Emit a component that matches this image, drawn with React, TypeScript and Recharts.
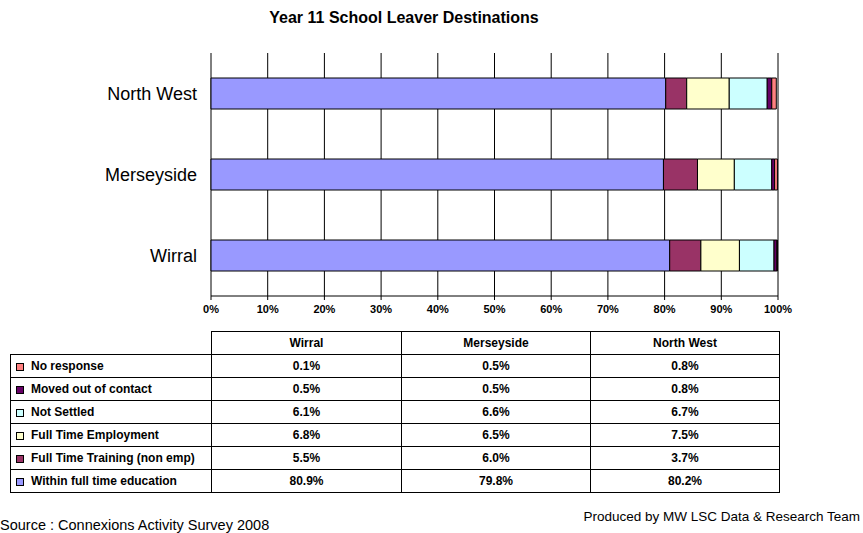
import React from "react";
import {
  Bar,
  BarChart,
  CartesianGrid,
  ReferenceLine,
  XAxis,
  YAxis,
} from "recharts";

// table order (left to right)
const CATEGORIES = ["Wirral", "Merseyside", "North West"];

// stacked from the left
const SERIES_NAMES = [
  "Within full time education",
  "Full Time Training (non emp)",
  "Full Time Employment",
  "Not Settled",
  "Moved out of contact",
  "No response",
];

const EDUCATION = [80.9, 79.8, 80.2];
const TRAINING = [5.5, 6.0, 3.7];
const EMPLOYMENT = [6.8, 6.5, 7.5];
const NOT_SETTLED = [6.1, 6.6, 6.7];
const MOVED_OUT = [0.5, 0.5, 0.8];
const NO_RESPONSE = [0.1, 0.5, 0.8];

const X_TICKS = [0, 10, 20, 30, 40, 50, 60, 70, 80, 90, 100];

const SERIES_VALUES = [EDUCATION, TRAINING, EMPLOYMENT, NOT_SETTLED, MOVED_OUT, NO_RESPONSE];
const COLORS = ["#9999FF", "#993366", "#FFFFCC", "#CCFFFF", "#660066", "#FF8080"];
const KEYS = ["edu", "train", "emp", "notSettled", "moved", "noResp"];

const FONT = "'Liberation Sans', Arial, sans-serif";

// chart runs top to bottom: North West, Merseyside, Wirral
const chartData = CATEGORIES.map((name, i) => {
  const row: Record<string, string | number> = { name };
  KEYS.forEach((k, s) => (row[k] = SERIES_VALUES[s][i]));
  return row;
}).reverse();

const cell: React.CSSProperties = {
  border: "1px solid #000",
  padding: 0,
  height: 22,
  textAlign: "center",
  fontWeight: "bold",
  fontSize: 12,
  lineHeight: "14px",
};

function DataTable() {
  const rows = SERIES_NAMES.map((name, s) => ({ name, s })).reverse();
  return (
    <table
      style={{
        position: "absolute",
        left: 10,
        top: 331,
        borderCollapse: "collapse",
        fontFamily: FONT,
        tableLayout: "fixed",
        width: 769,
      }}
    >
      <colgroup>
        <col style={{ width: 201 }} />
        <col style={{ width: 190 }} />
        <col style={{ width: 189 }} />
        <col style={{ width: 189 }} />
      </colgroup>
      <tbody>
        <tr>
          <td style={{ ...cell, border: "none", borderRight: "1px solid #000" }} />
          {CATEGORIES.map((c) => (
            <td key={c} style={cell}>
              {c}
            </td>
          ))}
        </tr>
        {rows.map(({ name, s }) => (
          <tr key={name}>
            <td style={{ ...cell, textAlign: "left", paddingLeft: 5, whiteSpace: "nowrap" }}>
              <span
                style={{
                  display: "inline-block",
                  width: 6,
                  height: 6,
                  background: COLORS[s],
                  border: "1px solid #000",
                  marginRight: 7,
                  verticalAlign: "-1px",
                }}
              />
              {name}
            </td>
            {CATEGORIES.map((c, i) => (
              <td key={c} style={cell}>
                {SERIES_VALUES[s][i].toFixed(1)}%
              </td>
            ))}
          </tr>
        ))}
      </tbody>
    </table>
  );
}

export default function App() {
  return (
    <div
      style={{
        position: "absolute",
        left: 0,
        top: 0,
        width: 863,
        height: 533,
        background: "#fff",
        fontFamily: FONT,
        overflow: "hidden",
      }}
    >
      <div
        style={{
          position: "absolute",
          top: 9,
          left: 254,
          width: 300,
          textAlign: "center",
          fontSize: 16,
          fontWeight: "bold",
          whiteSpace: "nowrap",
        }}
      >
        Year 11 School Leaver Destinations
      </div>
      <BarChart
        width={863}
        height={330}
        data={chartData}
        layout="vertical"
        barSize={31}
        margin={{ top: 53, right: 85, bottom: 14, left: 0 }}
      >
        <CartesianGrid
          yAxisId="cat"
          horizontal={false}
          stroke="#000"
          strokeWidth={1}
        />
        <XAxis
          type="number"
          domain={[0, 100]}
          ticks={X_TICKS}
          interval={0}
          height={20}
          tickFormatter={(v) => `${v}%`}
          tick={{ fill: "#000", fontSize: 11, fontWeight: "bold" }}
          tickSize={4}
          tickMargin={5}
          stroke="#000"
        />
        <YAxis
          yAxisId="grid"
          type="number"
          domain={[0, 3]}
          ticks={[0, 1, 2, 3]}
          width={0}
          tickSize={4}
          tickFormatter={() => ""}
          stroke="#000"
        />
        <YAxis
          yAxisId="cat"
          type="category"
          dataKey="name"
          width={211}
          axisLine={false}
          tickLine={false}
          tickSize={0}
          tickMargin={14}
          tick={{ fill: "#000", fontSize: 18 }}
        />
        <ReferenceLine yAxisId="grid" y={3} stroke="#999" />
        {KEYS.map((k, s) => (
          <Bar
            key={k}
            yAxisId="cat"
            dataKey={k}
            name={SERIES_NAMES[s]}
            stackId="a"
            fill={COLORS[s]}
            stroke="#000"
            strokeWidth={1}
            isAnimationActive={false}
          />
        ))}
      </BarChart>
      <DataTable />
      <div style={{ position: "absolute", left: 0, top: 517, fontSize: 14.5, whiteSpace: "nowrap" }}>
        Source : Connexions Activity Survey 2008
      </div>
      <div style={{ position: "absolute", right: 3, top: 509, fontSize: 13.5, whiteSpace: "nowrap" }}>
        Produced by MW LSC Data &amp; Research Team
      </div>
    </div>
  );
}
